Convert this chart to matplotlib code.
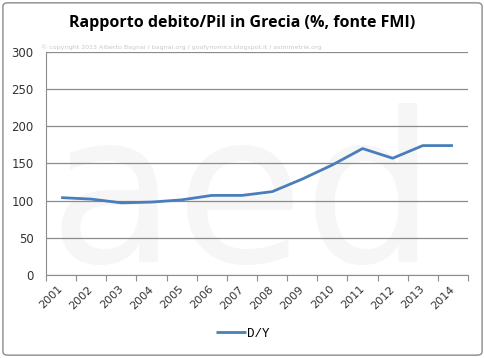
import matplotlib
matplotlib.use("Agg")
import matplotlib.pyplot as plt
from matplotlib.patches import FancyBboxPatch
from matplotlib.transforms import ScaledTranslation

# Greek debt/GDP ratio, IMF source
years = ["2001", "2002", "2003", "2004", "2005", "2006", "2007",
         "2008", "2009", "2010", "2011", "2012", "2013", "2014"]
debt_gdp = [104, 102, 97, 98, 101, 107, 107, 112, 129, 148, 170, 157, 174, 174]
y_ticks = [0, 50, 100, 150, 200, 250, 300]

LINE_BLUE = "#4a7ebb"
GRID_GRAY = "#8c8c8c"

fig = plt.figure(figsize=(4.85, 3.58), dpi=100)
fig.patch.set_facecolor("white")

# outer chart frame
fig.patches.append(FancyBboxPatch((0.006, 0.008), 0.988, 0.984,
                                  boxstyle="round,pad=0,rounding_size=0.01",
                                  transform=fig.transFigure, fill=False,
                                  edgecolor="#8a8a8a", linewidth=1.0))

# faint background watermark, drawn under the axes
fig.text(0.50, 0.43, "aed", fontsize=150, color="#f6f6f6", ha="center",
         va="center", family="DejaVu Sans", zorder=-5)

ax = fig.add_axes([0.095, 0.232, 0.870, 0.623])
ax.set_facecolor("none")

x = list(range(len(years)))
ax.plot(x, debt_gdp, color=LINE_BLUE, linewidth=2.0, label="D/Y",
        solid_capstyle="butt", zorder=3)

ax.set_xlim(-0.5, len(years) - 0.5)
ax.set_ylim(0, 300)
ax.set_yticks(y_ticks)
ax.set_yticklabels([str(v) for v in y_ticks], fontsize=8.5, color="#333333",
                   family="DejaVu Sans")
ax.yaxis.grid(True, color=GRID_GRAY, linewidth=0.9)
ax.set_axisbelow(True)

# category ticks sit on the boundaries, labels end at the centres
ax.set_xticks([i - 0.5 for i in range(len(years) + 1)])
ax.set_xticklabels([])
ax.set_xticks(x, minor=True)
ax.set_xticklabels(years, minor=True, rotation=45, fontsize=8,
                   family="DejaVu Sans", color="#333333",
                   ha="right", va="center", rotation_mode="anchor")
shift = ScaledTranslation(4 / 100, 0, fig.dpi_scale_trans)
for lbl in ax.get_xticklabels(minor=True):
    lbl.set_transform(lbl.get_transform() + shift)
ax.tick_params(axis="x", which="major", length=4, color=GRID_GRAY, direction="out")
ax.tick_params(axis="x", which="minor", length=0, pad=9)
ax.tick_params(axis="y", length=0, pad=9)

for side in ("top", "right"):
    ax.spines[side].set_visible(False)
ax.spines["left"].set_color(GRID_GRAY)
ax.spines["bottom"].set_color(GRID_GRAY)

fig.text(0.5, 0.935, "Rapporto debito/Pil in Grecia (%, fonte FMI)",
         ha="center", va="center", fontsize=11.5, fontweight="bold",
         family="Open Sans")
fig.text(0.085, 0.868, "\u00a9 copyright 2013 Alberto Bagnai / bagnai.org / "
         "goofynomics.blogspot.it / asimmetrie.org",
         fontsize=4.5, color="#c8c8c8", ha="left", va="center")

leg = fig.legend(loc="center", bbox_to_anchor=(0.5, 0.068), frameon=False,
                 prop={"family": "Liberation Mono", "size": 9},
                 handlelength=2.4, handletextpad=0.1)

fig.savefig("out.png", dpi=100)
